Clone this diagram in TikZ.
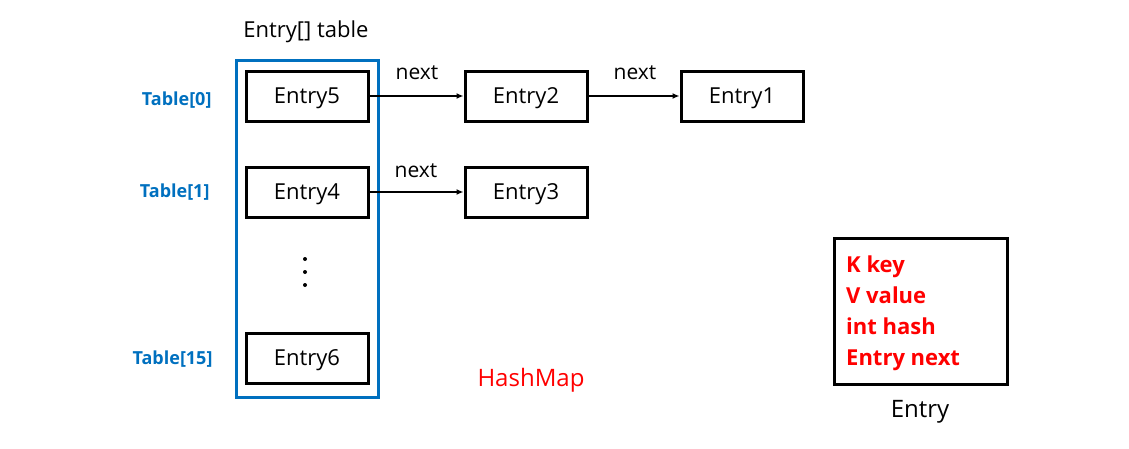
\documentclass[tikz,border=0pt]{standalone}
\usepackage{fontspec}
\setmainfont{Open Sans}
\usetikzlibrary{arrows.meta}
\definecolor{TableClr}{rgb}{0,0.44,0.75}
\definecolor{FieldClr}{rgb}{1,0,0}

\begin{document}
\begin{tikzpicture}[x=1pt,y=-1pt,
  entrybox/.style={draw=black,line width=3pt,minimum width=122pt,minimum height=50pt,
    inner sep=0pt,text depth=0pt,font=\fontsize{22}{26}\selectfont},
  idxlabel/.style={anchor=east,text=TableClr,text depth=0pt,font=\bfseries\fontsize{18}{21}\selectfont},
  nextlabel/.style={font=\fontsize{21}{25}\selectfont},
  link/.style={-{Latex[length=7pt,width=6pt]},line width=2pt}]
\useasboundingbox (0,0) rectangle (1129,448);

% bucket array
\draw[draw=TableClr,line width=3pt] (236,60) rectangle (378,397);
\node[font=\fontsize{22}{26}\selectfont] (title) at (306,32) {Entry[] table};

\node[entrybox] (e5) at (307,96) {Entry5};
\node[entrybox] (e4) at (307,192) {Entry4};
\node[entrybox] (e6) at (307,358) {Entry6};
\foreach \y in {259,272,285}
  \fill (305,\y) circle (2pt);

\node[idxlabel] (t0) at (215,99) {Table[0]};
\node[idxlabel] (t1) at (213,191) {Table[1]};
\node[idxlabel] (t15) at (216,358) {Table[15]};

% chains
\node[entrybox] (e2) at (526,96) {Entry2};
\node[entrybox] (e1) at (742,96) {Entry1};
\node[entrybox] (e3) at (526,192) {Entry3};

\draw[link] (e5) -- (e2);
\draw[link] (e2) -- (e1);
\draw[link] (e4) -- (e3);
\node[nextlabel] (n1) at (417,73) {next};
\node[nextlabel] (n2) at (635,73) {next};
\node[nextlabel] (n3) at (416,171) {next};

\node[text=FieldClr,font=\fontsize{24}{28}\selectfont] (hm) at (531,380) {HashMap};

% entry layout
\node[draw=black,line width=3pt,minimum width=173pt,minimum height=146pt] (entry) at (921,311) {};
\node[anchor=north west,align=left,inner sep=0pt,text=FieldClr,
  font=\bfseries\fontsize{22}{31}\selectfont] (fields) at (846,256)
  {K key\\V value\\int hash\\Entry next};
\node[font=\fontsize{24}{28}\selectfont] (elabel) at (920,412) {Entry};
\end{tikzpicture}
\end{document}
